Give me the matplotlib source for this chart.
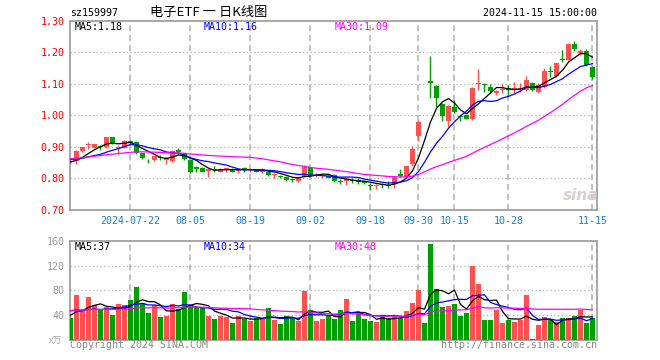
import numpy as np
import pandas as pd
import matplotlib
matplotlib.use("Agg")
import matplotlib.pyplot as plt

# ---- data (sz159997, daily) ----
holidays = ["2024-09-16", "2024-09-17", "2024-10-01", "2024-10-02", "2024-10-03",
            "2024-10-04", "2024-10-07"]
dates = [d for d in pd.bdate_range("2024-07-08", "2024-11-15")
         if d.strftime("%Y-%m-%d") not in holidays]

opens = [.856, .854, .886, .906, .897, .902, .899, .930, .897, .897,
         .920, .914, .880, .856, .859, .867, .860, .854, .891, .878,
         .857, .836, .834, .823, .829, .821, .826, .829, .823, .832,
         .826, .830, .822, .822, .812, .807, .806, .798, .793, .806,
         .836, .809, .808, .809, .811, .793, .791, .796, .794, .791,
         .780, .775, .782, .780, .781, .813, .805, .847, .933, 1.081,
         1.108, 1.094, 1.036, .981, 1.028, .997, 1.000, .990, 1.098, 1.100,
         1.089, 1.070, 1.080, 1.086, 1.082, 1.082, 1.081, 1.102, 1.073, 1.089,
         1.140, 1.126, 1.179, 1.176, 1.226, 1.197, 1.205, 1.153]
highs = [.862, .889, .900, .916, .909, .907, .930, .930, .907, .922,
         .921, .916, .882, .862, .872, .873, .869, .889, .896, .880,
         .859, .840, .835, .832, .838, .832, .834, .832, .831, .836,
         .834, .831, .832, .823, .818, .811, .807, .803, .804, .842,
         .837, .818, .815, .811, .813, .799, .801, .801, .800, .795,
         .786, .782, .785, .791, .808, .831, .841, .904, .985, 1.081,
         1.188, 1.097, 1.038, 1.032, 1.049, 1.002, 1.002, 1.090, 1.148, 1.104,
         1.100, 1.080, 1.100, 1.096, 1.106, 1.104, 1.125, 1.107, 1.102, 1.150,
         1.155, 1.167, 1.207, 1.230, 1.236, 1.209, 1.209, 1.157]
lows = [.846, .846, .884, .893, .895, .890, .897, .910, .877, .895,
        .910, .878, .862, .849, .855, .857, .847, .852, .879, .860,
        .818, .819, .820, .806, .819, .819, .820, .820, .818, .821,
        .821, .820, .817, .809, .800, .800, .792, .788, .788, .804,
        .806, .805, .803, .800, .790, .782, .778, .785, .783, .782,
        .762, .765, .770, .771, .769, .805, .803, .840, .920, 1.080,
        1.055, 1.028, .981, .964, 1.006, .981, .988, .985, 1.080, 1.075,
        1.070, 1.065, 1.070, 1.066, 1.071, 1.075, 1.076, 1.076, 1.070, 1.086,
        1.123, 1.122, 1.170, 1.174, 1.205, 1.192, 1.155, 1.115]
closes = [.852, .887, .899, .909, .908, .899, .930, .912, .900, .918,
          .912, .880, .865, .854, .870, .864, .864, .888, .885, .862,
          .821, .830, .821, .830, .826, .830, .832, .822, .829, .828,
          .829, .822, .826, .811, .815, .804, .794, .795, .802, .836,
          .808, .812, .810, .801, .793, .790, .797, .793, .789, .786,
          .775, .778, .778, .775, .805, .808, .839, .894, .980, 1.080,
          1.102, 1.054, .999, 1.030, 1.010, .994, .990, 1.087, 1.101, 1.097,
          1.078, 1.078, 1.085, 1.081, 1.087, 1.086, 1.111, 1.079, 1.097, 1.142,
          1.137, 1.165, 1.174, 1.226, 1.210, 1.205, 1.160, 1.121]
volumes = [36, 72, 46, 69, 56, 48, 53, 40, 58, 56,
           64, 86, 60, 43, 56, 37, 39, 58, 50, 77,
           56, 53, 51, 39, 34, 39, 37, 28, 39, 34,
           31, 35, 34, 52, 32, 26, 39, 35, 31, 79,
           48, 31, 34, 41, 34, 48, 66, 30, 44, 34,
           30, 29, 40, 35, 39, 35, 46, 60, 80, 28,
           154, 82, 53, 55, 58, 39, 44, 120, 90, 32,
           32, 48, 28, 32, 29, 32, 72, 2, 24, 37,
           32, 29, 36, 36, 38, 48, 28, 36]
# closes / volumes before the window, needed for the moving averages at the left edge
pre_close = [.840, .845, .842, .838, .845, .850, .848, .852, .855, .850,
             .848, .853, .872, .885, .893, .900, .898, .892, .890, .883,
             .876, .870, .866, .862, .866, .858, .853, .848, .849]
pre_vol = [45, 52, 40, 48, 55, 42, 50, 47, 44, 53, 49, 46, 51, 43, 48,
           50, 45, 47, 52, 47, 58, 52, 55, 50, 55, 44, 38, 42, 40]

tick_dates = ["2024-07-22", "2024-08-05", "2024-08-19", "2024-09-02", "2024-09-18",
              "2024-09-30", "2024-10-15", "2024-10-28", "2024-11-15"]
tick_labels = ["2024-07-22", "08-05", "08-19", "09-02", "09-18",
               "09-30", "10-15", "10-28", "11-15"]
price_ticks = [0.70, 0.80, 0.90, 1.00, 1.10, 1.20, 1.30]
vol_ticks = [40, 80, 120, 160]
price_legend = ["MA5:1.18", "MA10:1.16", "MA30:1.09"]
vol_legend = ["MA5:37", "MA10:34", "MA30:48"]

RED = "#ff5050"
GREEN = "#00a000"
FRAME = "#a0a0a0"
GRID = "#b0b0b0"
MONO = "DejaVu Sans Mono"
MA_COLORS = ["black", "#0000ff", "#ff00ff"]

W, H = 660, 360


def fx(x):
    return x / W


def fy(y):
    return 1 - y / H


n = len(closes)
x = np.arange(n)
o = np.array(opens)
c = np.array(closes)
hi = np.array(highs)
lo = np.array(lows)
vol = np.array(volumes)
up = c >= o
cols = np.where(up, RED, GREEN)

close_full = pd.Series(pre_close + closes)
vol_full = pd.Series(pre_vol + volumes)
k = len(pre_close)
ma_price = [close_full.rolling(m).mean().values[k:] for m in (5, 10, 30)]
ma_vol = [vol_full.rolling(m).mean().values[k:] for m in (5, 10, 30)]

tick_idx = [[d.strftime("%Y-%m-%d") for d in dates].index(t) for t in tick_dates]

fig = plt.figure(figsize=(W / 100, H / 100), dpi=100)
ax = fig.add_axes([fx(70), fy(210), fx(527), 189.3 / H])
axv = fig.add_axes([fx(70), fy(340), fx(527), 99.3 / H])

xlim = (-0.08, n - 0.25)

# ---- price panel ----
ax.vlines(x, lo, hi, colors=cols, lw=1, zorder=2)
body = np.maximum(np.abs(c - o), 0.0018)
ax.bar(x, body, bottom=np.minimum(o, c), width=0.82, color=cols, lw=0, zorder=3)
for ma, col in zip(ma_price, MA_COLORS):
    ax.plot(x, ma, color=col, lw=0.9, zorder=4)
ax.set_xlim(*xlim)
ax.set_ylim(0.70, 1.30)
ax.set_yticks(price_ticks)
ax.set_yticklabels([f"{t:.2f}" for t in price_ticks], color="#ff0000",
                   fontsize=7.2, family=MONO)
for t in price_ticks[1:-1]:
    ax.axhline(t, color=GRID, lw=0.9, ls=(0, (1, 2)), zorder=1)
ax.set_xticks(tick_idx)
ax.set_xticklabels(tick_labels, color="#1a7fd0", fontsize=7.2, family=MONO)
for t in tick_idx:
    ax.axvline(t, color=GRID, lw=1.1, ls=(0, (4, 2.5)), zorder=1)
ax.tick_params(length=0, pad=4)

# ---- volume panel ----
axv.bar(x, vol, width=0.82, color=cols, lw=0, zorder=3)
for ma, col in zip(ma_vol, MA_COLORS):
    axv.plot(x, ma, color=col, lw=0.9, zorder=4)
axv.set_xlim(*xlim)
axv.set_ylim(0, 160)
axv.set_yticks(vol_ticks)
axv.set_yticklabels([str(t) for t in vol_ticks], color="#999999", fontsize=7.2, family=MONO)
for t in vol_ticks[:-1]:
    axv.axhline(t, color=GRID, lw=0.9, ls=(0, (1, 2)), zorder=1)
axv.set_xticks([])
for t in tick_idx:
    axv.axvline(t, color=GRID, lw=1.1, ls=(0, (4, 2.5)), zorder=1)
axv.tick_params(length=0, pad=4)

for a in (ax, axv):
    for s in a.spines.values():
        s.set_color(FRAME)
        s.set_linewidth(1.3)

# ---- texts ----
fig.text(fx(70), fy(13), "sz159997", fontsize=7.2, family=MONO, va="center", ha="left")
fig.text(fx(209), fy(12), "电子ETF 一 日K线图", fontsize=9.5,
         family=["Noto Sans CJK SC", "DejaVu Sans"], va="center", ha="center")
fig.text(fx(597), fy(13), "2024-11-15 15:00:00", fontsize=7.2, family=MONO,
         va="center", ha="right")

leg_x = [75, 204, 335]
for s, px, col in zip(price_legend, leg_x, MA_COLORS):
    fig.text(fx(px), fy(26.5), s, color=col, fontsize=7.2, family=MONO, va="center")
for s, px, col in zip(vol_legend, leg_x, MA_COLORS):
    fig.text(fx(px), fy(246.5), s, color=col, fontsize=7.2, family=MONO, va="center")

fig.text(fx(49), fy(341), "x万", color="#aaaaaa", fontsize=6.5,
         family=["Noto Sans CJK SC", "DejaVu Sans"], va="center", ha="left")
fig.text(fx(70), fy(345.5), "Copyright 2024 SINA.COM", color="#888888",
         fontsize=7.2, family=MONO, va="center", ha="left")
fig.text(fx(597), fy(345.5), "http://finance.sina.com.cn", color="#888888",
         fontsize=7.2, family=MONO, va="center", ha="right")
fig.text(fx(581), fy(196), "sina", color="#d9cfcf", fontsize=11, fontweight="bold",
         fontstyle="italic", va="center", ha="center", zorder=0)

fig.savefig("out.png", dpi=100)
